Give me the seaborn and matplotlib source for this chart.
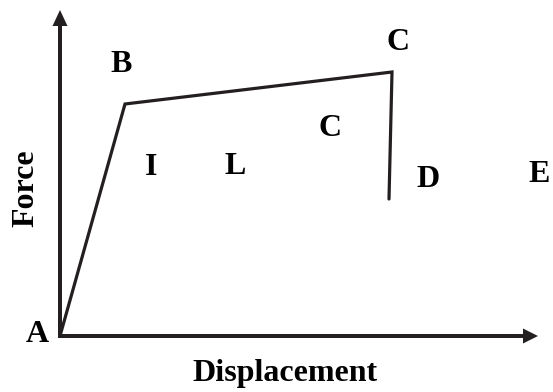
import matplotlib
matplotlib.use("Agg")
import matplotlib.pyplot as plt
import seaborn as sns
import pandas as pd

# Force-displacement path A -> B -> C -> D (arbitrary units)
displacement = [0, 65, 332, 329]
force = [0, 232, 264, 137]

# Region / point labels
labels = ["A", "B", "C", "C", "I", "L", "D", "E"]
label_x = [-22.5, 61.5, 338.5, 270.5, 91, 175.5, 368.5, 479.5]
label_y = [-6, 264, 286, 200, 161, 162, 149, 154]

x_title = "Displacement"
y_title = "Force"

sns.set_theme(style="white")
plt.rcParams["font.family"] = ["Liberation Serif", "DejaVu Serif"]

ink = "#231f20"
fig = plt.figure(figsize=(5.53, 3.92), dpi=100)
ax = fig.add_axes([0, 0, 1, 1])
ax.set_xlim(-60, 493)
ax.set_ylim(-56, 336)
ax.axis("off")

df = pd.DataFrame({"Displacement": displacement, "Force": force})
sns.lineplot(data=df, x="Displacement", y="Force", sort=False, ax=ax,
             color=ink, linewidth=2.3, solid_joinstyle="miter")

# axes with arrow heads
ax.arrow(-2, 0, 480, 0, width=4, head_width=15, head_length=15,
         length_includes_head=True, color=ink, lw=0)
ax.arrow(0, -2, 0, 328, width=4, head_width=15, head_length=16,
         length_includes_head=True, color=ink, lw=0)

for t, x, y in zip(labels, label_x, label_y):
    ax.text(x, y, t, ha="center", va="baseline", fontsize=23,
            fontweight="bold", color="black")

ax.text(225, -45, x_title, ha="center", va="baseline", fontsize=23,
        fontweight="bold", color="black")
ax.text(-34, 147.5, y_title, ha="center", va="center", rotation=90,
        fontsize=23, fontweight="bold", color="black")

fig.savefig("out.png", dpi=100)
